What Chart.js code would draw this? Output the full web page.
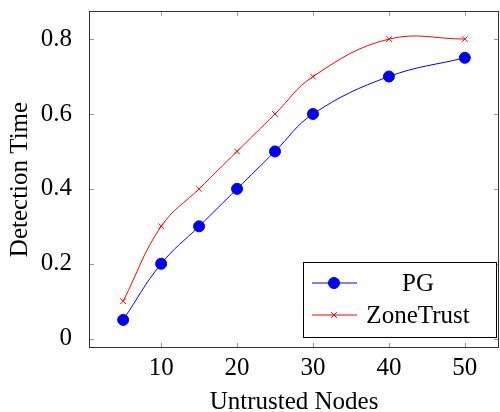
<!DOCTYPE html>
<html>
<head>
<meta charset="utf-8">
<script src="https://cdn.jsdelivr.net/npm/chart.js@4/dist/chart.umd.min.js"></script>
<style>
html,body{margin:0;padding:0;background:#fff;}
#wrap{width:500px;height:412px;position:relative;}
</style>
</head>
<body>
<div id="wrap"><canvas id="c" width="500" height="412"></canvas></div>
<script>
const nodes = [5, 10, 15, 20, 25, 30, 40, 50];
const pgValues = [0.05, 0.2, 0.3, 0.4, 0.5, 0.6, 0.7, 0.75];
const zoneTrustValues = [0.1, 0.3, 0.4, 0.5, 0.6, 0.7, 0.8, 0.8];
const xTicks = [10, 20, 30, 40, 50];
const yTicks = [0, 0.2, 0.4, 0.6, 0.8];
const seriesNames = ['PG', 'ZoneTrust'];
const xTitle = 'Untrusted Nodes';
const yTitle = 'Detection Time';

const FONT = '"Liberation Serif", "DejaVu Serif", serif';

function zeroPad(s) { s.paddingTop = 0; s.paddingBottom = 0; s.paddingLeft = 0; s.paddingRight = 0; }

const framePlugin = {
  id: 'frame',
  afterDatasetsDraw(chart) {
    const ctx = chart.ctx;
    const a = chart.chartArea;
    const xs = chart.scales.x, ys = chart.scales.y;
    ctx.save();
    ctx.strokeStyle = '#999';
    ctx.lineWidth = 1;
    const tl = 5;
    ctx.beginPath();
    xTicks.forEach(v => {
      const px = Math.round(xs.getPixelForValue(v)) + 0.5;
      ctx.moveTo(px, a.bottom); ctx.lineTo(px, a.bottom - tl);
      ctx.moveTo(px, a.top); ctx.lineTo(px, a.top + tl);
    });
    yTicks.forEach(v => {
      const py = Math.round(ys.getPixelForValue(v)) + 0.5;
      ctx.moveTo(a.left, py); ctx.lineTo(a.left + tl, py);
      ctx.moveTo(a.right, py); ctx.lineTo(a.right - tl, py);
    });
    ctx.stroke();
    ctx.strokeStyle = '#333';
    ctx.strokeRect(Math.round(a.left) + 0.5, Math.round(a.top) + 0.5,
                   Math.round(a.right - a.left) - 1, Math.round(a.bottom - a.top) - 1);

    // legend
    const lx = 303.5, ly = 262.5, lw = 193, lh = 75;
    ctx.fillStyle = '#fff';
    ctx.fillRect(lx, ly, lw, lh);
    ctx.strokeStyle = '#000';
    ctx.strokeRect(lx, ly, lw, lh);
    const rows = [283, 315];
    chart.data.datasets.forEach((ds, i) => {
      const y = rows[i];
      ctx.strokeStyle = ds.borderColor;
      ctx.lineWidth = 1;
      ctx.beginPath();
      ctx.moveTo(312, y); ctx.lineTo(357, y);
      ctx.stroke();
      ctx.fillStyle = ds.pointBackgroundColor;
      ctx.strokeStyle = ds.pointBorderColor;
      Chart.helpers.drawPoint(ctx, {
        pointStyle: ds.pointStyle, radius: ds.pointRadius, borderWidth: 1, rotation: 0
      }, 334, y);
      ctx.fillStyle = '#000';
      ctx.font = '25px ' + FONT;
      ctx.textAlign = 'center';
      ctx.textBaseline = 'middle';
      ctx.fillText(ds.label, 418, y + 1);
    });
    ctx.restore();
  }
};

new Chart(document.getElementById('c'), {
  type: 'line',
  data: {
    datasets: [
      {
        label: seriesNames[0],
        data: nodes.map((x, i) => ({x, y: pgValues[i]})),
        borderColor: '#0000ff',
        backgroundColor: '#0000ff',
        pointBackgroundColor: '#0000ff',
        pointBorderColor: '#0000ff',
        pointStyle: 'circle',
        pointRadius: 5.5,
        borderWidth: 1,
        tension: 0.4,
        fill: false
      },
      {
        label: seriesNames[1],
        data: nodes.map((x, i) => ({x, y: zoneTrustValues[i]})),
        borderColor: '#ff0000',
        backgroundColor: '#ff0000',
        pointBackgroundColor: '#ff0000',
        pointBorderColor: '#ff0000',
        pointStyle: 'crossRot',
        pointRadius: 4,
        pointBorderWidth: 1,
        borderWidth: 1,
        tension: 0.4,
        fill: false
      }
    ]
  },
  options: {
    responsive: false,
    animation: false,
    devicePixelRatio: 1,
    layout: {autoPadding: false, padding: {top: 11, right: 1, bottom: 0, left: 0}},
    plugins: {legend: {display: false}, tooltip: {enabled: false}},
    scales: {
      x: {
        type: 'linear',
        min: 0.5, max: 54.5,
        afterBuildTicks(s) { s.ticks = xTicks.map(v => ({value: v})); },
        afterFit(s) { s.height = 64; zeroPad(s); },
        grid: {display: false},
        border: {display: false},
        ticks: {color: '#000', font: {family: FONT, size: 25}, padding: -3, maxRotation: 0,
                callback: v => String(v)},
        title: {display: true, text: xTitle, color: '#000',
                font: {family: FONT, size: 25, lineHeight: 0.8}, padding: 0}
      },
      y: {
        type: 'linear',
        min: -0.025, max: 0.875,
        afterBuildTicks(s) { s.ticks = yTicks.map(v => ({value: v})); },
        afterFit(s) { s.width = 89; zeroPad(s); },
        grid: {display: false},
        border: {display: false},
        ticks: {color: '#000', font: {family: FONT, size: 25}, padding: 9,
                callback: v => String(v)},
        title: {display: true, text: yTitle, color: '#000',
                font: {family: FONT, size: 25, lineHeight: 1.2}, padding: {top: 5, bottom: 0}}
      }
    }
  },
  plugins: [framePlugin]
});
</script>
</body>
</html>
